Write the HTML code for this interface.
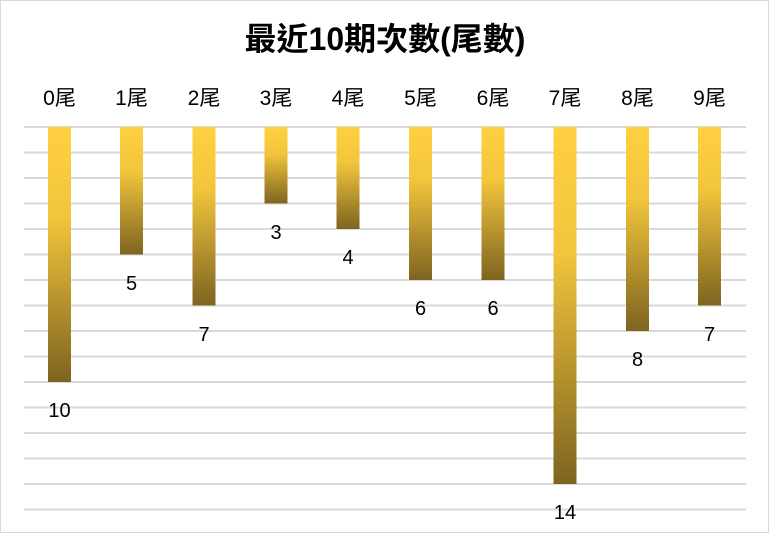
<!DOCTYPE html>
<html><head><meta charset="utf-8"><style>
body{margin:0;background:#fff}
svg{display:block}
text{font-family:"Liberation Sans","Noto Sans CJK TC",sans-serif;fill:#000}
</style></head><body>
<svg width="770" height="534" viewBox="0 0 770 534" xmlns="http://www.w3.org/2000/svg">
<defs>
<linearGradient id="g" x1="0" y1="0" x2="0" y2="1">
<stop offset="0" stop-color="#FFD040"/>
<stop offset="0.35" stop-color="#F2C53C"/>
<stop offset="1" stop-color="#7E6420"/>
</linearGradient>
</defs>
<rect x="0.5" y="0.5" width="768" height="532" fill="#fff" stroke="#d9d9d9"/>
<text x="385" y="50" text-anchor="middle" font-size="32" font-weight="bold">最近10期次數(尾數)</text>
<g stroke="#d9d9d9" stroke-width="2">
<line x1="24" x2="746" y1="127" y2="127"/><line x1="24" x2="746" y1="152.5" y2="152.5"/><line x1="24" x2="746" y1="178" y2="178"/><line x1="24" x2="746" y1="203.5" y2="203.5"/><line x1="24" x2="746" y1="229" y2="229"/><line x1="24" x2="746" y1="254.5" y2="254.5"/><line x1="24" x2="746" y1="280" y2="280"/><line x1="24" x2="746" y1="305.5" y2="305.5"/><line x1="24" x2="746" y1="331" y2="331"/><line x1="24" x2="746" y1="356.5" y2="356.5"/><line x1="24" x2="746" y1="382" y2="382"/><line x1="24" x2="746" y1="407.5" y2="407.5"/><line x1="24" x2="746" y1="433" y2="433"/><line x1="24" x2="746" y1="458.5" y2="458.5"/><line x1="24" x2="746" y1="484" y2="484"/><line x1="24" x2="746" y1="509.5" y2="509.5"/>
</g>
<g font-size="21" text-anchor="middle">
<text x="59.5" y="105">0尾</text><text x="131.5" y="105">1尾</text><text x="204" y="105">2尾</text><text x="276" y="105">3尾</text><text x="348" y="105">4尾</text><text x="420.5" y="105">5尾</text><text x="493" y="105">6尾</text><text x="565" y="105">7尾</text><text x="637.5" y="105">8尾</text><text x="709.5" y="105">9尾</text>
</g>
<g fill="url(#g)">
<rect x="48" y="127" width="23" height="255"/>
<rect x="120" y="127" width="23" height="127.5"/>
<rect x="192.5" y="127" width="23" height="178.5"/>
<rect x="264.5" y="127" width="23" height="76.5"/>
<rect x="336.5" y="127" width="23" height="102"/>
<rect x="409" y="127" width="23" height="153"/>
<rect x="481.5" y="127" width="23" height="153"/>
<rect x="553.5" y="127" width="23" height="357"/>
<rect x="626" y="127" width="23" height="204"/>
<rect x="698" y="127" width="23" height="178.5"/>
</g>
<g font-size="20" text-anchor="middle">
<text x="59.5" y="417">10</text><text x="131.5" y="290">5</text><text x="204" y="341">7</text><text x="276" y="239">3</text><text x="348" y="264">4</text><text x="420.5" y="315">6</text><text x="493" y="315">6</text><text x="565" y="519">14</text><text x="637.5" y="366">8</text><text x="709.5" y="341">7</text>
</g>
</svg>
</body></html>
